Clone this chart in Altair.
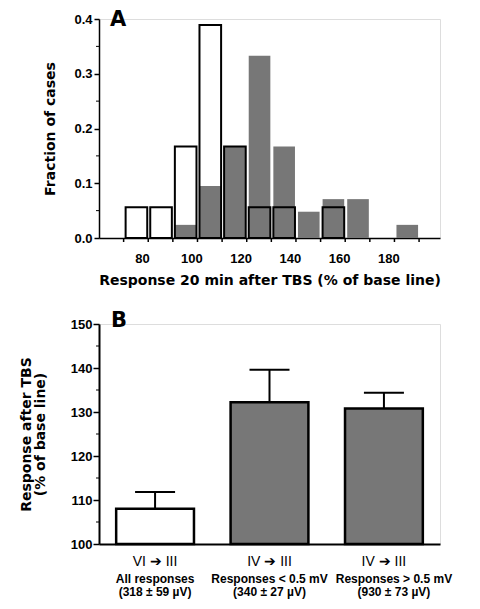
import altair as alt
import pandas as pd

# ---------------- Panel A: histogram of responses ----------------
bin_lo = [72.5, 82.5, 92.5, 102.5, 112.5, 122.5, 132.5, 142.5, 152.5, 162.5, 172.5, 182.5]
bin_hi = [82.5, 92.5, 102.5, 112.5, 122.5, 132.5, 142.5, 152.5, 162.5, 172.5, 182.5, 192.5]
frac_open = [0.056, 0.056, 0.167, 0.389, 0.167, 0.056, 0.056, 0.0, 0.056, 0.0, 0.0, 0.0]
frac_shaded = [0.0, 0.0, 0.024, 0.095, 0.167, 0.333, 0.167, 0.048, 0.071, 0.071, 0.0, 0.024]
x_labels_a = [80, 100, 120, 140, 160, 180]
bin_edges = [72.5, 82.5, 92.5, 102.5, 112.5, 122.5, 132.5, 142.5, 152.5, 162.5, 172.5, 182.5, 192.5]
y_major_a = [0.0, 0.1, 0.2, 0.3, 0.4]
y_minor_a = [0.05, 0.15, 0.25, 0.35]

# ---------------- Panel B: mean responses ----------------
groups = ["g1", "g2", "g3"]
pathway = ["VI  \u2794  III", "IV  \u2794  III", "IV  \u2794  III"]
subset = ["All responses", "Responses < 0.5 mV", "Responses > 0.5 mV"]
amplitude = ["(318 \u00b1 59 \u00b5V)", "(340 \u00b1 27 \u00b5V)", "(930 \u00b1 73 \u00b5V)"]
mean_resp = [108.0, 132.2, 130.8]
upper_resp = [111.8, 139.6, 134.4]
y_major_b = [100, 110, 120, 130, 140, 150]
y_minor_b = [105, 115, 125, 135, 145]

GRAY = "#777777"
WA, HA = 341, 219
WB, HB = 341, 220
TITLE_FONT = "DejaVu Sans"

dfA = pd.DataFrame({"lo": bin_lo, "hi": bin_hi, "open": frac_open, "shaded": frac_shaded})
dfEdges = pd.DataFrame({"edge": bin_edges})
dfMinorA = pd.DataFrame({"v": y_minor_a})

xscaleA = alt.Scale(domain=[62.5, 201], nice=False, zero=False)
yscaleA = alt.Scale(domain=[0, 0.4], nice=False)
xaxisA = alt.Axis(values=x_labels_a, ticks=False, labelPadding=14,
                  title="Response 20 min after TBS (% of base line)", titlePadding=8)
yaxisA = alt.Axis(values=y_major_a, format=".1f", title="Fraction of cases",
                  tickSize=5, labelPadding=2, titlePadding=16)

open_fill = alt.Chart(dfA).mark_bar(fill="white", binSpacing=3).encode(
    x=alt.X("lo:Q", bin="binned", scale=xscaleA, axis=xaxisA), x2="hi:Q",
    y=alt.Y("open:Q", scale=yscaleA, axis=yaxisA))
shaded = alt.Chart(dfA).transform_filter("datum.shaded > 0").mark_bar(
    fill=GRAY, binSpacing=3).encode(
    x=alt.X("lo:Q", bin="binned", scale=xscaleA, axis=xaxisA), x2="hi:Q",
    y=alt.Y("shaded:Q", scale=yscaleA, axis=yaxisA))
open_line = alt.Chart(dfA).transform_filter("datum.open > 0").mark_bar(
    filled=False, color="black", strokeWidth=2, binSpacing=3).encode(
    x=alt.X("lo:Q", bin="binned", scale=xscaleA, axis=xaxisA), x2="hi:Q",
    y=alt.Y("open:Q", scale=yscaleA, axis=yaxisA))
edge_ticks = alt.Chart(dfEdges).mark_rule(color="black", strokeWidth=1.5).encode(
    x=alt.X("edge:Q", scale=xscaleA, axis=xaxisA),
    y=alt.value(HA), y2=alt.value(HA + 4))
minor_a = alt.Chart(dfMinorA).mark_rule(color="black", strokeWidth=1).encode(
    y=alt.Y("v:Q", scale=yscaleA, axis=yaxisA),
    x=alt.value(-3), x2=alt.value(0))
letter_a = alt.Chart(pd.DataFrame({"t": ["A"]})).mark_text(
    fontSize=21, fontWeight="bold", align="center", baseline="middle",
    font=TITLE_FONT).encode(text="t:N", x=alt.value(19), y=alt.value(1))

chartA = alt.layer(open_fill, shaded, open_line, edge_ticks, minor_a, letter_a).properties(
    width=WA, height=HA)

# ---------------- Panel B chart ----------------
dfB = pd.DataFrame({"cat": groups, "pathway": pathway, "subset": subset,
                    "amp": amplitude, "mean": mean_resp, "upper": upper_resp})
dfMinorB = pd.DataFrame({"v": y_minor_b})

xscaleB = alt.Scale(domain=groups, paddingInner=0.32, paddingOuter=0.15)
yscaleB = alt.Scale(domain=[100, 150], nice=False, zero=False)
xaxisB = alt.Axis(labels=False, ticks=False, title=None, domainWidth=2)
yaxisB = alt.Axis(values=y_major_b, title=["Response after TBS", "(% of base line)"],
                  tickSize=6, labelPadding=1, titlePadding=23,
                  titleLineHeight=14, domainWidth=2)

def xb():
    return alt.X("cat:N", sort=groups, scale=xscaleB, axis=xaxisB)

bars = alt.Chart(dfB).mark_bar(stroke="black", strokeWidth=2.5).encode(
    x=xb(),
    y=alt.Y("mean:Q", scale=yscaleB, axis=yaxisB),
    y2=alt.datum(100),
    fill=alt.Fill("cat:N", scale=alt.Scale(domain=groups, range=["white", GRAY, GRAY]),
                  legend=None))
err = alt.Chart(dfB).mark_rule(color="black", strokeWidth=2).encode(
    x=xb(), y=alt.Y("mean:Q", scale=yscaleB, axis=yaxisB), y2="upper:Q")
cap = alt.Chart(dfB).mark_tick(color="black", size=40, thickness=2, opacity=1).encode(
    x=xb(), y=alt.Y("upper:Q", scale=yscaleB, axis=yaxisB))
minor_b = alt.Chart(dfMinorB).mark_rule(color="black", strokeWidth=1).encode(
    y=alt.Y("v:Q", scale=yscaleB, axis=yaxisB),
    x=alt.value(-3), x2=alt.value(0))
lab1 = alt.Chart(dfB).mark_text(fontSize=14, fontWeight="normal", baseline="middle").encode(
    x=xb(), y=alt.value(HB + 18), text="pathway:N")

def sub_labels(field, yoff):
    left = alt.Chart(dfB).transform_filter("datum.cat != 'g3'").mark_text(
        fontSize=12, fontWeight="bold", baseline="middle").encode(
        x=xb(), y=alt.value(HB + yoff), text=f"{field}:N")
    right = alt.Chart(dfB).transform_filter("datum.cat == 'g3'").mark_text(
        fontSize=12, fontWeight="bold", baseline="middle", dx=10).encode(
        x=xb(), y=alt.value(HB + yoff), text=f"{field}:N")
    return [left, right]

letter_b = alt.Chart(pd.DataFrame({"t": ["B"]})).mark_text(
    fontSize=21, fontWeight="bold", align="center", baseline="middle",
    font=TITLE_FONT).encode(text="t:N", x=alt.value(20), y=alt.value(-3))

chartB = alt.layer(bars, err, cap, minor_b, lab1,
                   *sub_labels("subset", 35), *sub_labels("amp", 48),
                   letter_b).properties(width=WB, height=HB)

chart = alt.vconcat(chartA, chartB, spacing=21).properties(
    padding={"left": 10, "top": 0, "right": 5, "bottom": 5}
).configure_view(strokeWidth=0).configure(
    font="Liberation Sans"
).configure_axis(
    domainColor="black", tickColor="black", labelColor="black", titleColor="black",
    labelFont="Liberation Sans", titleFont=TITLE_FONT,
    labelFontSize=13, labelFontWeight="bold", titleFontSize=14, titleFontWeight="bold",
    grid=False, domainWidth=1.5, tickWidth=1.5
)

chart.save("out.html", embed_options={"renderer": "svg", "actions": False})
